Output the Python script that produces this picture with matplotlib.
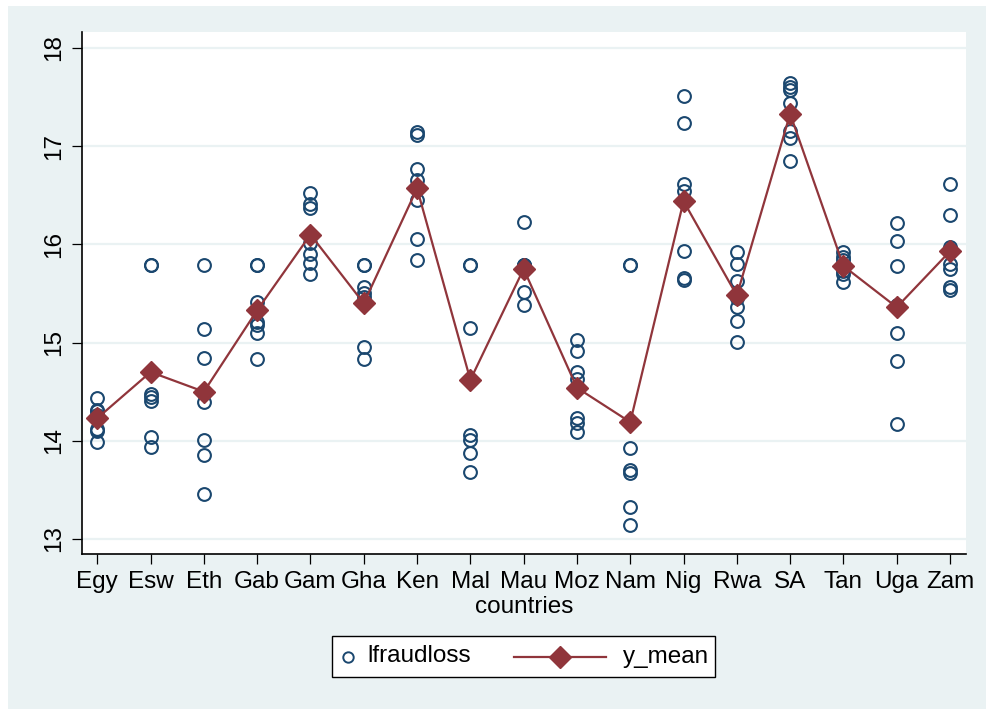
import numpy as np
import matplotlib
matplotlib.use('Agg')
import matplotlib.pyplot as plt
from matplotlib.lines import Line2D
from matplotlib.patches import Rectangle
from matplotlib.offsetbox import DrawingArea, TextArea, HPacker, AnchoredOffsetbox

plt.rcParams.update({'font.family': ['Liberation Sans', 'DejaVu Sans']})

countries = ['Egy', 'Esw', 'Eth', 'Gab', 'Gam', 'Gha', 'Ken', 'Mal', 'Mau',
             'Moz', 'Nam', 'Nig', 'Rwa', 'SA', 'Tan', 'Uga', 'Zam']

lfraudloss = [
    [14.44, 14.31, 14.30, 14.26, 14.12, 14.10, 13.99],
    [15.79, 15.79, 14.48, 14.45, 14.41, 14.04, 13.94],
    [15.79, 15.14, 14.84, 14.40, 14.01, 13.86, 13.46],
    [15.79, 15.79, 15.41, 15.21, 15.18, 15.10, 14.83],
    [16.52, 16.41, 16.37, 16.01, 15.90, 15.81, 15.70],
    [15.79, 15.79, 15.57, 15.50, 15.46, 14.95, 14.83],
    [17.14, 17.11, 16.77, 16.66, 16.45, 16.06, 15.84],
    [15.79, 15.79, 15.15, 14.06, 14.01, 13.88, 13.68],
    [16.23, 15.79, 15.79, 15.79, 15.76, 15.52, 15.38],
    [15.03, 14.91, 14.70, 14.63, 14.23, 14.18, 14.09],
    [15.79, 15.79, 13.93, 13.70, 13.67, 13.33, 13.14],
    [17.51, 17.24, 16.61, 16.54, 15.93, 15.66, 15.64],
    [15.92, 15.80, 15.63, 15.45, 15.36, 15.22, 15.01],
    [17.64, 17.60, 17.57, 17.44, 17.15, 17.08, 16.85],
    [15.92, 15.87, 15.84, 15.78, 15.73, 15.70, 15.62],
    [16.22, 16.03, 15.78, 15.38, 15.10, 14.81, 14.17],
    [16.61, 16.30, 15.97, 15.80, 15.75, 15.57, 15.54],
]

y_mean = [14.23, 14.70, 14.50, 15.33, 16.10, 15.40, 16.57, 14.62, 15.75,
          14.54, 14.19, 16.44, 15.48, 17.33, 15.78, 15.36, 15.93]

yticks = [13, 14, 15, 16, 17, 18]

NAVY = '#1a476f'
MAROON = '#90353b'
BG = '#EAF2F3'
FS = 17.5

fig = plt.figure(figsize=(9.87, 7.09), dpi=100)
fig.patch.set_facecolor('white')
fig.patches.append(Rectangle((8 / 987, 0), 1, 1 - 6 / 709, transform=fig.transFigure,
                             facecolor=BG, edgecolor='none', zorder=-1))

ax = fig.add_axes([82 / 987, 1 - 554 / 709, (966 - 82) / 987, (554 - 32) / 709])
ax.set_facecolor('white')

xs = np.arange(len(countries))
px = np.concatenate([np.full(len(v), i) for i, v in enumerate(lfraudloss)])
py = np.concatenate([np.array(v) for v in lfraudloss])

ax.plot(px, py, linestyle='None', marker='o', markersize=9.2, markerfacecolor='none',
        markeredgecolor=NAVY, markeredgewidth=1.5, zorder=3)
ax.plot(xs, y_mean, color=MAROON, linewidth=1.6, marker='D', markersize=11.5,
        markerfacecolor=MAROON, markeredgecolor=MAROON, zorder=4)

ax.set_xlim(-0.287, 16.3)
ax.set_ylim(12.847, 18.163)
ax.set_xticks(xs)
ax.set_xticklabels(countries, fontsize=FS)
ax.set_yticks(yticks)
ax.set_yticklabels([str(t) for t in yticks], fontsize=FS, rotation=90, va='center')
ax.tick_params(axis='both', length=7.2, width=0.9, color='black')
ax.tick_params(axis='x', pad=5)
ax.tick_params(axis='y', pad=5)
ax.grid(axis='y', color=BG, linewidth=1.6)
ax.set_axisbelow(True)
for side in ['top', 'right']:
    ax.spines[side].set_visible(False)
for side in ['left', 'bottom']:
    ax.spines[side].set_linewidth(1.2)
ax.set_xlabel('countries', fontsize=FS, labelpad=2)

# legend built from pieces so the two keys can have different widths
da1 = DrawingArea(14, 20, 0, 0)
da1.add_artist(Line2D([7], [10], marker='o', markersize=7.5, markerfacecolor='none',
                      markeredgecolor=NAVY, markeredgewidth=1.4, linestyle='None'))
da2 = DrawingArea(66, 20, 0, 0)
da2.add_artist(Line2D([0, 66], [10, 10], color=MAROON, linewidth=1.6))
da2.add_artist(Line2D([33], [10], marker='D', markersize=11.5, color=MAROON, linestyle='None'))
t1 = TextArea('lfraudloss', textprops=dict(fontsize=FS))
t2 = TextArea('y_mean', textprops=dict(fontsize=FS))
entry1 = HPacker(children=[da1, t1], sep=7, align='center')
entry2 = HPacker(children=[da2, t2], sep=12, align='center')
row = HPacker(children=[entry1, entry2], sep=31, align='center', pad=0)
box = AnchoredOffsetbox(loc='center', child=row, pad=0.45, borderpad=0, frameon=True,
                        bbox_to_anchor=(523.5 / 987, 1 - 656.5 / 709),
                        bbox_transform=fig.transFigure)
box.patch.set_edgecolor('black')
box.patch.set_linewidth(1.0)
box.patch.set_facecolor('white')
fig.add_artist(box)

fig.savefig('out.png', dpi=100, facecolor=fig.get_facecolor())
